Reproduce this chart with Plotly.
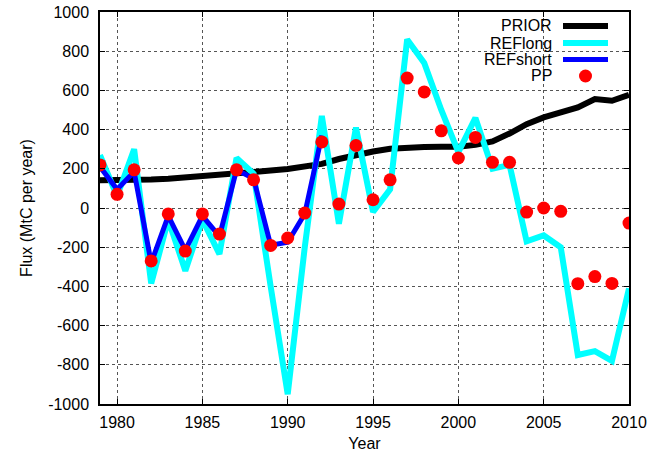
import plotly.graph_objects as go

years = list(range(1979, 2011))
prior = [141, 140, 142, 145, 149, 155, 160, 167, 174, 183, 191, 199, 210, 225, 250, 270,
         288, 302, 310, 311, 312, 312, 322, 340, 380, 428, 462, 490, 513, 556, 547, 578]
reflong = [270, 60, 300, -385, -60, -320, -60, -235, 255, 175, -400, -950, -200, 470, -80, 410,
           -20, 95, 860, 740, 500, 285, 460, 200, 220, -170, -140, -200, -750, -730, -780, -410]
refshort_years = list(range(1979, 1993))
refshort = [210, 95, 185, -280, -40, -215, -40, -145, 195, 150, -190, -175, -30, 370]
pp = [220, 70, 195, -270, -30, -220, -30, -133, 195, 144, -191, -153, -26, 337, 20, 319,
      42, 144, 663, 592, 394, 255, 360, 233, 233, -21, 0, -17, -386, -350, -385, -77]

series_names = ["PRIOR", "REFlong", "REFshort", "PP"]
colors = {"PRIOR": "#000000", "REFlong": "#00FFFF", "REFshort": "#0000FF", "PP": "#FF0000"}
xticks = [1980, 1985, 1990, 1995, 2000, 2005, 2010]
yticks = list(range(-1000, 1001, 200))

FONT = "Liberation Sans, Arial, sans-serif"
FS = 16

fig = go.Figure()
fig.add_trace(go.Scatter(x=years, y=prior, mode="lines", name="PRIOR",
                         line=dict(color=colors["PRIOR"], width=6)))
fig.add_trace(go.Scatter(x=years, y=reflong, mode="lines", name="REFlong",
                         line=dict(color=colors["REFlong"], width=6)))
fig.add_trace(go.Scatter(x=refshort_years, y=refshort, mode="lines", name="REFshort",
                         line=dict(color=colors["REFshort"], width=5)))
fig.add_trace(go.Scatter(x=years, y=pp, mode="markers", name="PP",
                         marker=dict(color=colors["PP"], size=13, line=dict(width=0))))

W, H = 664, 456
ml, mr, mt, mb = 100, 35, 12, 52
pw, ph = W - ml - mr, H - mt - mb


def px(x):
    return (x - ml) / pw


def py(y):
    return (H - mb - y) / ph


# manual legend (text on the left, sample on the right)
rows = [26, 43, 59.5, 76]
for name, yy in zip(series_names, rows):
    fig.add_annotation(x=px(554), y=py(yy), xref="paper", yref="paper", text=name,
                       showarrow=False, xanchor="right", yanchor="middle",
                       font=dict(family=FONT, size=FS, color="#000"))
    if name == "PP":
        r = 6.5
        fig.add_shape(type="circle", xref="paper", yref="paper",
                      x0=px(585.5 - r), x1=px(585.5 + r), y0=py(yy + r), y1=py(yy - r),
                      fillcolor=colors[name], line=dict(width=0))
    else:
        fig.add_shape(type="line", xref="paper", yref="paper",
                      x0=px(563), x1=px(608), y0=py(yy), y1=py(yy),
                      line=dict(color=colors[name], width=6 if name != "REFshort" else 5))

fig.update_layout(
    width=W, height=H,
    margin=dict(l=ml, r=mr, t=mt, b=mb),
    paper_bgcolor="white", plot_bgcolor="white",
    showlegend=False,
    font=dict(family=FONT, size=FS, color="#000"),
)
fig.update_xaxes(range=[1979, 2010], tickvals=xticks, ticktext=[str(v) for v in xticks],
                 showline=True, linecolor="#000", linewidth=1.5, mirror="ticks",
                 ticks="inside", ticklen=5, tickcolor="#000", automargin=False,
                 ticklabeloverflow="allow",
                 showgrid=True, gridcolor="#555", griddash="dot", gridwidth=1,
                 zeroline=False, ticklabelstandoff=3,
                 title=dict(text="Year", standoff=8, font=dict(size=FS)))
fig.update_yaxes(range=[-1000, 1000], tickvals=yticks, ticktext=[str(v) for v in yticks],
                 showline=True, linecolor="#000", linewidth=1.5, mirror="ticks",
                 ticks="inside", ticklen=5, tickcolor="#000", automargin=False,
                 ticklabeloverflow="allow",
                 showgrid=True, gridcolor="#555", griddash="dot", gridwidth=1,
                 zeroline=False, ticklabelstandoff=6,
                 title=dict(text="Flux (MtC per year)", standoff=12, font=dict(size=FS)))

fig.write_html("out.html", config={"displayModeBar": False},
               post_script="document.body.style.margin='0px';")
